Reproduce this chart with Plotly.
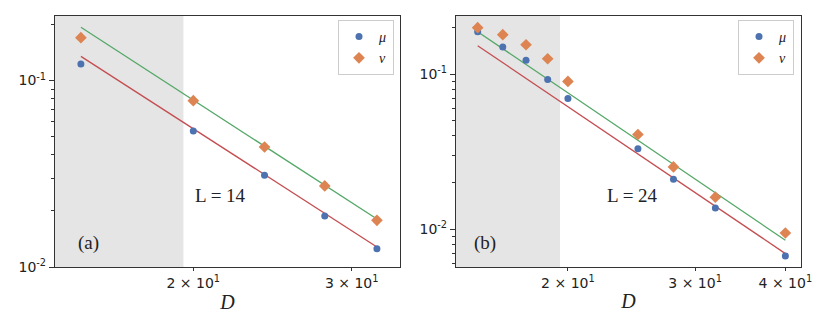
import plotly.graph_objects as go

# panel (a), L = 14
d_a = [15, 20, 24, 28, 32]
mu_a = [0.1226, 0.0536, 0.0310, 0.01877, 0.01253]
nu_a = [0.1697, 0.0780, 0.0440, 0.0272, 0.0178]
fit_d_a = [15, 32]
fit_upper_a = [0.193, 0.01809]
fit_lower_a = [0.1348, 0.0128]

# panel (b), L = 24
d_b = [15, 16.25, 17.5, 18.75, 20, 25, 28, 32, 40]
mu_b = [0.1875, 0.1493, 0.1226, 0.0924, 0.0697, 0.0330, 0.0210, 0.01372, 0.00672]
nu_b = [0.199, 0.1793, 0.1545, 0.1255, 0.0897, 0.0408, 0.0252, 0.0161, 0.00946]
fit_d_b = [15, 40]
fit_upper_b = [0.1875, 0.00849]
fit_lower_b = [0.1523, 0.00697]

shade_end = 19.5  # shaded region edge (both panels)

x_ticks_a = [20, 30]
x_ticks_b = [20, 30, 40]
x_ticktext_a = ["2 × 10<sup>1</sup>", "3 × 10<sup>1</sup>"]
x_ticktext_b = ["2 × 10<sup>1</sup>", "3 × 10<sup>1</sup>", "4 × 10<sup>1</sup>"]
y_ticks = [0.01, 0.1]
y_ticktext = ["10<sup>-2</sup>", "10<sup>-1</sup>"]
y_minor_a = [0.02, 0.03, 0.04, 0.05, 0.06, 0.07, 0.08, 0.09, 0.2]
y_minor_b = [0.006, 0.007, 0.008, 0.009] + y_minor_a

BLUE = "#4C72B0"
ORANGE = "#DD8452"
GREEN = "#55A868"
RED = "#C44E52"
SERIF = "Liberation Serif, DejaVu Serif, serif"

# page body has an 8px margin, so the figure is drawn 8px in from the window corner
OFF = 8
W, H = 830 - OFF, 332 - OFF


def fx(px):
    return (px - OFF) / W


def fy(py):
    return 1 - (py - OFF) / H


fig = go.Figure()


def add_panel(d, mu, nu, fit_d, fit_up, fit_lo, xa, ya, legend):
    fig.add_trace(go.Scatter(x=fit_d, y=fit_up, mode="lines", line=dict(color=GREEN, width=1.3),
                             xaxis=xa, yaxis=ya, showlegend=False))
    fig.add_trace(go.Scatter(x=fit_d, y=fit_lo, mode="lines", line=dict(color=RED, width=1.3),
                             xaxis=xa, yaxis=ya, showlegend=False))
    fig.add_trace(go.Scatter(x=d, y=mu, mode="markers", name="<i>μ</i>",
                             marker=dict(color=BLUE, size=7, symbol="circle"),
                             xaxis=xa, yaxis=ya, legend=legend))
    fig.add_trace(go.Scatter(x=d, y=nu, mode="markers", name="<i>ν</i>",
                             marker=dict(color=ORANGE, size=9, symbol="diamond"),
                             xaxis=xa, yaxis=ya, legend=legend))


add_panel(d_a, mu_a, nu_a, fit_d_a, fit_upper_a, fit_lower_a, "x", "y", "legend")
add_panel(d_b, mu_b, nu_b, fit_d_b, fit_upper_b, fit_lower_b, "x2", "y2", "legend2")

x_range_a = [1.1473, 1.5308]
x_range_b = [1.1461, 1.6237]
y_range_a = [-2.0, -0.654]
y_range_b = [-2.2432, -0.6258]

for xr, xref in [(x_range_a, "x"), (x_range_b, "x2")]:
    fig.add_shape(type="rect", xref=xref, yref=("y" if xref == "x" else "y2") + " domain",
                  x0=10 ** xr[0], x1=shade_end, y0=0, y1=1,
                  fillcolor="#E5E5E5", line_width=0, layer="below")

y_dom = [fy(267), fy(16)]
axis_common = dict(type="log", showgrid=False, zeroline=False, showline=True, mirror=True,
                   automargin=False,
                   linecolor="#333333", linewidth=1.2, ticks="outside", tickcolor="#333333",
                   tickfont=dict(family="DejaVu Sans", size=14, color="#222222"))

title_font = dict(family=SERIF, size=20, color="#222222")
legend_common = dict(yanchor="top", xanchor="right", y=fy(20),
                     bgcolor="white", bordercolor="#CCCCCC", borderwidth=1,
                     tracegroupgap=0, itemwidth=30,
                     font=dict(family=SERIF, size=14, color="#222222"))

fig.update_layout(
    width=W, height=H,
    margin=dict(l=0, r=0, t=0, b=0, autoexpand=False),
    paper_bgcolor="white", plot_bgcolor="white",
    xaxis=dict(axis_common, domain=[fx(55), fx(400)], range=x_range_a, anchor="y",
               tickvals=x_ticks_a, ticktext=x_ticktext_a, ticklen=3,
               title=dict(text="<i>D</i>", font=title_font, standoff=4)),
    yaxis=dict(axis_common, domain=y_dom, range=y_range_a, anchor="x",
               tickvals=y_ticks, ticktext=y_ticktext, ticklen=5,
               minor=dict(tickvals=y_minor_a, ticks="outside", ticklen=3, tickcolor="#333333")),
    xaxis2=dict(axis_common, domain=[fx(456), fx(801)], range=x_range_b, anchor="y2",
                tickvals=x_ticks_b, ticktext=x_ticktext_b, ticklen=3,
                title=dict(text="<i>D</i>", font=title_font, standoff=4)),
    yaxis2=dict(axis_common, domain=y_dom, range=y_range_b, anchor="x2",
                tickvals=y_ticks, ticktext=y_ticktext, ticklen=5,
                minor=dict(tickvals=y_minor_b, ticks="outside", ticklen=3, tickcolor="#333333")),
    legend=dict(legend_common, x=fx(394)),
    legend2=dict(legend_common, x=fx(794)),
)

text_font = dict(family=SERIF, size=19, color="#222222")
for txt, px_x, px_y in [("L = 14", 220, 195), ("(a)", 88, 243),
                        ("L = 24", 632, 195), ("(b)", 485, 243)]:
    fig.add_annotation(text=txt, x=fx(px_x), y=fy(px_y), xref="paper", yref="paper",
                       showarrow=False, font=text_font, xanchor="center", yanchor="middle")

fig.write_html("out.html")
